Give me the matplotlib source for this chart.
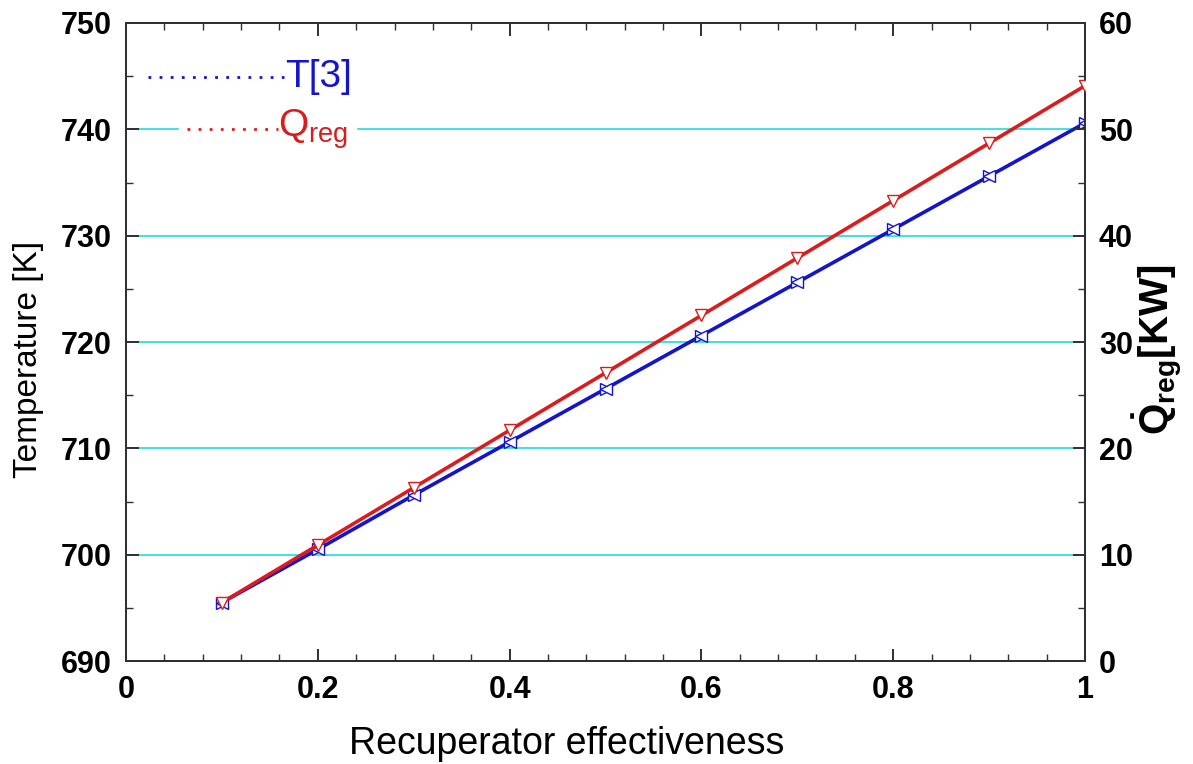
import matplotlib
matplotlib.use("Agg")
import matplotlib.pyplot as plt
from matplotlib.ticker import MultipleLocator, FuncFormatter

plt.rcParams['font.family'] = ['Liberation Sans', 'DejaVu Sans']
plt.rcParams['mathtext.fontset'] = 'custom'
plt.rcParams['mathtext.rm'] = 'Liberation Sans'
plt.rcParams['mathtext.it'] = 'Liberation Sans'
plt.rcParams['mathtext.bf'] = 'Liberation Sans:bold'

# recuperator effectiveness sweep
effectiveness = [0.1, 0.2, 0.3, 0.4, 0.5, 0.6, 0.7, 0.8, 0.9, 1.0]
t3 = [695.5, 700.5, 705.6, 710.6, 715.6, 720.6, 725.6, 730.6, 735.6, 740.6]
q_reg = [5.5, 10.9, 16.3, 21.7, 27.1, 32.5, 37.9, 43.3, 48.7, 54.1]

blue = '#1414cc'
red = '#dc1c1c'
cyan = '#40e0e0'

fig = plt.figure(figsize=(11.93, 7.64), dpi=100)
ax = fig.add_axes([0.1056, 0.1348, 0.8039, 0.8351])
ax2 = ax.twinx()

ax.set_xlim(0, 1)
ax.set_ylim(690, 750)
ax2.set_ylim(0, 60)

for y in [700, 710, 720, 730, 740]:
    ax.axhline(y, color=cyan, lw=1.4, zorder=1)

# T[3] with bowtie markers (two opposing triangles)
ax.plot(effectiveness, t3, color=blue, lw=2.6, zorder=3)
for m in ['>', '<']:
    ax.plot(effectiveness, t3, ls='none', marker=m, ms=8, mfc='white',
            mec=blue, mew=1.0, zorder=4)

ax2.plot(effectiveness, q_reg, color=red, lw=2.6, zorder=3)
ax2.plot(effectiveness, q_reg, ls='none', marker='v', ms=9, mfc='white',
         mec=red, mew=1.0, zorder=4)

for a in (ax, ax2):
    for s in a.spines.values():
        s.set_color('#303030')
        s.set_linewidth(1.4)

ax.xaxis.set_major_locator(MultipleLocator(0.2))
ax.xaxis.set_minor_locator(MultipleLocator(0.04))
ax.xaxis.set_major_formatter(FuncFormatter(lambda v, p: '%g' % round(v, 2)))
ax.yaxis.set_major_locator(MultipleLocator(10))
ax.yaxis.set_minor_locator(MultipleLocator(5))
ax2.yaxis.set_major_locator(MultipleLocator(10))
ax2.yaxis.set_minor_locator(MultipleLocator(5))

ax.tick_params(axis='x', which='both', direction='in', top=True, color='#303030')
ax.tick_params(axis='y', which='both', direction='in', left=True, right=False, color='#303030')
ax2.tick_params(axis='y', which='both', direction='in', right=True, color='#303030')
ax.tick_params(which='major', length=9, width=1.4, labelsize=22, pad=10)
ax.tick_params(which='minor', length=5, width=1.0)
ax2.tick_params(which='major', length=9, width=1.4, labelsize=22, pad=10)
ax2.tick_params(which='minor', length=5, width=1.0)
for lab in ax.get_xticklabels() + ax.get_yticklabels() + ax2.get_yticklabels():
    lab.set_fontweight('bold')

ax.set_xlabel('Recuperator effectiveness', fontsize=27)
ax.xaxis.set_label_coords(0.46, -0.102)
ax.set_ylabel('Temperature [K]', fontsize=24)
ax.yaxis.set_label_coords(-0.0855, 0.472)
ax2.set_ylabel(r'$\mathbf{\dot{Q}_{reg}}$[KW]', fontsize=29, fontweight='bold')
ax2.yaxis.set_label_coords(1.047, 0.487)

# legend entries drawn by hand
ax.fill_between([0.055, 0.24], 737.8, 742.2, color='white', zorder=2)
ax.plot([0.023, 0.165], [744.9, 744.9], color=blue, ls=(0, (1, 3)), lw=2, zorder=5)
ax.text(0.166, 744.9, 'T[3]', color=blue, fontsize=28, va='center', ha='left', zorder=5)
ax.plot([0.064, 0.158], [740, 740], color=red, ls=(0, (1, 3)), lw=2, zorder=5)
ax.text(0.159, 740, r'Q$_{\mathrm{reg}}$', color=red, fontsize=28, va='center', ha='left', zorder=5)

fig.savefig('out.png', dpi=100)
